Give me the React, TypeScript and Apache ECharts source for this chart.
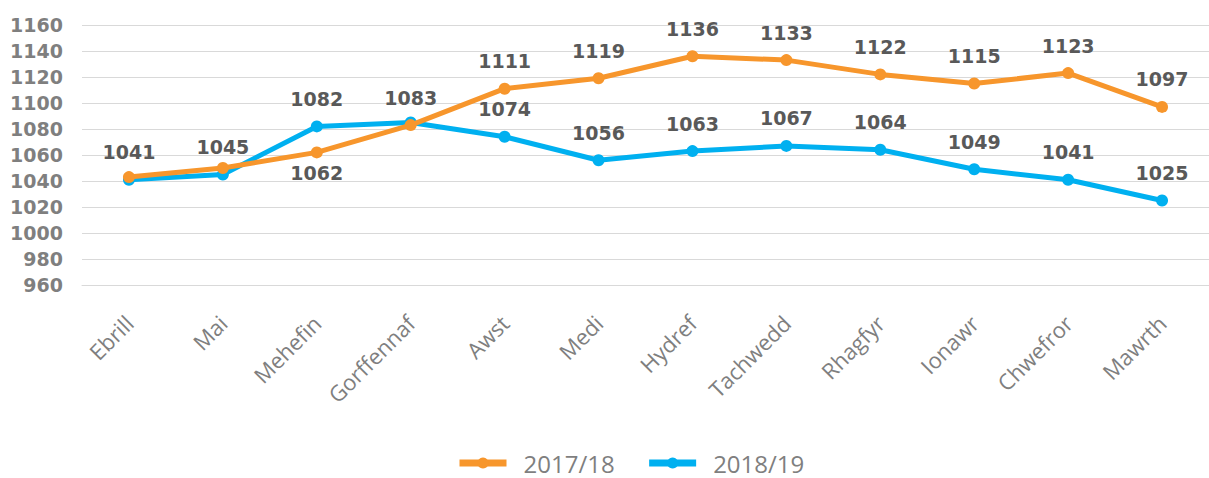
import React, { useEffect, useRef } from "react";
import * as echarts from "echarts";

const categories = ["Ebrill", "Mai", "Mehefin", "Gorffennaf", "Awst", "Medi", "Hydref", "Tachwedd", "Rhagfyr", "Ionawr", "Chwefror", "Mawrth"];
const series1718 = [1043, 1050, 1062, 1083, 1111, 1119, 1136, 1133, 1122, 1115, 1123, 1097];
const series1819 = [1041, 1045, 1082, 1085, 1074, 1056, 1063, 1067, 1064, 1049, 1041, 1025];
// label placement per point: "top", "bottom" or "" (no label)
const labels1718 = ["", "", "bottom", "top", "top", "top", "top", "top", "top", "top", "top", "top"];
const labels1819 = ["top", "top", "top", "", "top", "top", "top", "top", "top", "top", "top", "top"];
const yMin = 960;
const yMax = 1160;
const yStep = 20;

const ORANGE = "#F7962C";
const BLUE = "#00B0F0";

const labelFont = {
  fontFamily: "DejaVu Sans",
  fontWeight: "bold" as const,
  fontSize: 19,
  color: "#595959",
};

function buildData(values: number[], places: string[]) {
  return values.map((v, i) => {
    const p = places[i];
    if (!p) return { value: v, label: { show: false } };
    return {
      value: v,
      label: { show: true, position: p, distance: p === "top" ? 12 : 5 },
    };
  });
}

export default function App() {
  const ref = useRef<HTMLDivElement>(null);
  useEffect(() => {
    if (!ref.current) return;
    const chart = echarts.init(ref.current, undefined, { renderer: "svg" });
    chart.setOption({
      animation: false,
      grid: { left: 82, right: -6, top: 25, bottom: 193, containLabel: false },
      legend: {
        data: ["2017/18", "2018/19"],
        left: 451,
        top: 444,
        itemWidth: 47,
        itemHeight: 14,
        itemGap: 31,
        lineStyle: { width: 7 },
        textStyle: {
          fontFamily: "Open Sans",
          fontSize: 24,
          lineHeight: 28,
          color: "#7f7f7f",
          padding: [0, 0, 0, 12],
        },
      },
      xAxis: {
        type: "category",
        data: categories,
        boundaryGap: true,
        axisLine: { show: true, lineStyle: { color: "#d9d9d9", width: 1 } },
        axisTick: { show: false },
        axisLabel: {
          rotate: 45,
          margin: 34,
          interval: 0,
          fontFamily: "Open Sans",
          fontSize: 22,
          color: "#7f7f7f",
        },
      },
      yAxis: {
        type: "value",
        min: yMin,
        max: yMax,
        interval: yStep,
        axisLine: { show: false },
        axisTick: { show: false },
        splitLine: { lineStyle: { color: "#d9d9d9", width: 1 } },
        axisLabel: {
          margin: 19,
          ...labelFont,
          color: "#7f7f7f",
          formatter: (v: number) => String(v),
        },
      },
      series: [
        {
          name: "2018/19",
          type: "line",
          data: buildData(series1819, labels1819),
          symbol: "circle",
          symbolSize: 12,
          lineStyle: { color: BLUE, width: 5 },
          itemStyle: { color: BLUE },
          label: { ...labelFont },
          z: 2,
        },
        {
          name: "2017/18",
          type: "line",
          data: buildData(series1718, labels1718),
          symbol: "circle",
          symbolSize: 12,
          lineStyle: { color: ORANGE, width: 5 },
          itemStyle: { color: ORANGE },
          label: { ...labelFont },
          z: 3,
        },
      ],
    });
    return () => chart.dispose();
  }, []);
  return (
    <div
      ref={ref}
      style={{ position: "fixed", left: 0, top: 0, width: 1209, height: 478, background: "#fff" }}
    />
  );
}
